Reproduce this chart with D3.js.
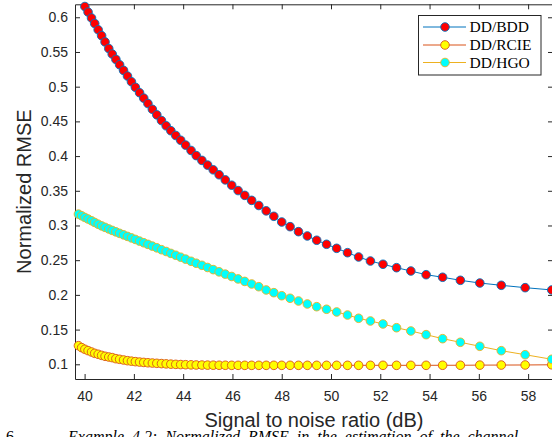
<!DOCTYPE html>
<html>
<head>
<meta charset="utf-8">
<script src="https://cdn.jsdelivr.net/npm/d3@7"></script>
<style>
    html, body { margin: 0; padding: 0; background: #fff; }
    .container { width: 552px; height: 437px; overflow: hidden; }
</style>
</head>
<body>
<div class="container"></div>
<script>
// SNR points (dB) shared by the three estimators
const snr = [
    39.75, 39.88, 40.01, 40.14, 40.28, 40.41, 40.55, 40.69, 40.83, 40.98,
    41.12, 41.27, 41.42, 41.58, 41.74, 41.90, 42.06, 42.23, 42.40, 42.57,
    42.75, 42.93, 43.12, 43.31, 43.50, 43.70, 43.90, 44.10, 44.32, 44.53,
    44.76, 44.99, 45.22, 45.46, 45.71, 45.97, 46.23, 46.50, 46.78, 47.07,
    47.37, 47.68, 48.00, 48.34, 48.68, 49.04, 49.42, 49.82, 50.23, 50.67,
    51.12, 51.60, 52.11, 52.66, 53.24, 53.86, 54.53, 55.25, 56.04, 56.91,
    57.88, 58.96,
];

const bdd = [
    0.632, 0.6235, 0.6155, 0.6075, 0.599, 0.591, 0.582, 0.5735, 0.5645, 0.555,
    0.547, 0.5393, 0.5316, 0.5235, 0.5153, 0.5071, 0.4991, 0.4913, 0.4835, 0.4757,
    0.4674, 0.4594, 0.4512, 0.4436, 0.4366, 0.4297, 0.4228, 0.4158, 0.4081, 0.4007,
    0.3938, 0.387, 0.3802, 0.3731, 0.3657, 0.358, 0.3503, 0.3434, 0.3362, 0.3288,
    0.3211, 0.3132, 0.305, 0.2983, 0.2911, 0.2849, 0.2787, 0.2729, 0.2671, 0.2608,
    0.2546, 0.2488, 0.2441, 0.2392, 0.2344, 0.2291, 0.2254, 0.221, 0.2171, 0.2138,
    0.2104, 0.2071,
];

const rcie = [
    0.1268, 0.124, 0.1216, 0.1197, 0.1177, 0.1158, 0.1144, 0.1129, 0.1115, 0.1105,
    0.1096, 0.1081, 0.1072, 0.1062, 0.1052, 0.1045, 0.1038, 0.1032, 0.1027, 0.1022,
    0.1018, 0.1014, 0.101, 0.1006, 0.1002, 0.0999, 0.0996, 0.0994, 0.0992, 0.099,
    0.0989, 0.0988, 0.0987, 0.0986, 0.0986, 0.0985, 0.0985, 0.0985, 0.0985, 0.0985,
    0.0985, 0.0985, 0.0985, 0.0985, 0.0985, 0.0985, 0.0985, 0.0985, 0.0985, 0.0985,
    0.0985, 0.0985, 0.0985, 0.0985, 0.0985, 0.0985, 0.0986, 0.0986, 0.0988, 0.0989,
    0.099, 0.0993,
];

const hgo = [
    0.3164, 0.314, 0.3116, 0.3093, 0.3068, 0.3044, 0.3018, 0.2994, 0.2973, 0.295,
    0.2929, 0.2908, 0.2887, 0.2865, 0.2843, 0.2821, 0.2799, 0.2775, 0.2751, 0.2728,
    0.2703, 0.2678, 0.2651, 0.2625, 0.2598, 0.2571, 0.2543, 0.2515, 0.2484, 0.2456,
    0.2426, 0.2395, 0.2364, 0.2332, 0.2299, 0.2265, 0.223, 0.2194, 0.2157, 0.2118,
    0.2071, 0.2032, 0.1988, 0.1951, 0.1912, 0.1869, 0.183, 0.1793, 0.1754, 0.171,
    0.1663, 0.1624, 0.1581, 0.1527, 0.148, 0.1427, 0.1369, 0.1317, 0.1259, 0.1196,
    0.1138, 0.1072,
];

const seriesNames = ["DD/BDD", "DD/RCIE", "DD/HGO"];
const xTicks = [40, 42, 44, 46, 48, 50, 52, 54, 56, 58];
const yTicks = [0.1, 0.15, 0.2, 0.25, 0.3, 0.35, 0.4, 0.45, 0.5, 0.55, 0.6];

const series = [
    { name: seriesNames[0], values: bdd, line: "#0072BD", fill: "#FF0000" },
    { name: seriesNames[1], values: rcie, line: "#D95319", fill: "#FFFF00" },
    { name: seriesNames[2], values: hgo, line: "#EDB120", fill: "#00FFFF" },
];

const width = 552;
const height = 437;
const plot = { left: 75, right: 553, top: 4.3, bottom: 379 };
const axisColor = "#262626";
const sans = "'Liberation Sans', Arial, Helvetica, sans-serif";
const serif = "'Liberation Serif', 'Times New Roman', serif";

const svg = d3
    .select(".container")
    .append("svg")
    .attr("width", width)
    .attr("height", height)
    .attr("viewBox", `0 0 ${width} ${height}`);

svg.append("rect").attr("width", width).attr("height", height).attr("fill", "#fff");

const x = d3.scaleLinear().domain([39.61, 59.01]).range([plot.left, plot.right]);
const y = d3.scaleLinear().domain([0.0788, 0.6187]).range([plot.bottom, plot.top]);

svg.append("defs")
    .append("clipPath")
    .attr("id", "plotClip")
    .append("rect")
    .attr("x", plot.left)
    .attr("y", plot.top)
    .attr("width", plot.right - plot.left)
    .attr("height", plot.bottom - plot.top);

// axes (box with inward ticks)
const styleAxis = (g) => {
    g.select(".domain").attr("stroke", axisColor).attr("stroke-width", 1);
    g.selectAll(".tick line").attr("stroke", axisColor).attr("stroke-width", 1);
    g.selectAll(".tick text").attr("fill", axisColor).attr("font-family", sans).attr("font-size", "14px");
};

svg.append("g")
    .attr("transform", `translate(0, ${plot.bottom})`)
    .call(d3.axisBottom(x).tickValues(xTicks).tickSizeInner(-5).tickSizeOuter(0).tickPadding(12))
    .call(styleAxis);

svg.append("g")
    .attr("transform", `translate(0, ${plot.top})`)
    .call(d3.axisTop(x).tickValues(xTicks).tickSizeInner(-5).tickSizeOuter(0).tickFormat(""))
    .call(styleAxis);

svg.append("g")
    .attr("transform", `translate(${plot.left}, 0)`)
    .call(d3.axisLeft(y).tickValues(yTicks).tickSizeInner(-5).tickSizeOuter(0).tickPadding(7).tickFormat(d3.format("~g")))
    .call(styleAxis);

svg.append("g")
    .attr("transform", `translate(${plot.right}, 0)`)
    .call(d3.axisRight(y).tickValues(yTicks).tickSizeInner(-5).tickSizeOuter(0).tickFormat(""))
    .call(styleAxis);

// series: line then markers, drawn in order
const line = d3
    .line()
    .x((d) => x(d[0]))
    .y((d) => y(d[1]));

series.forEach((s) => {
    const pts = snr.map((v, i) => [v, s.values[i]]);

    svg.append("path")
        .datum(pts)
        .attr("clip-path", "url(#plotClip)")
        .attr("fill", "none")
        .attr("stroke", s.line)
        .attr("stroke-width", 1)
        .attr("d", line);

    svg.append("g")
        .selectAll("circle")
        .data(pts.filter((d) => d[1] <= y.domain()[1] && d[1] >= y.domain()[0]))
        .enter()
        .append("circle")
        .attr("cx", (d) => x(d[0]))
        .attr("cy", (d) => y(d[1]))
        .attr("r", 4.3)
        .attr("fill", s.fill)
        .attr("stroke", s.line)
        .attr("stroke-width", 0.9);
});

// axis labels
svg.append("text")
    .attr("x", (plot.left + plot.right) / 2)
    .attr("y", 426.5)
    .attr("text-anchor", "middle")
    .attr("font-family", sans)
    .attr("font-size", "20px")
    .attr("fill", axisColor)
    .text("Signal to noise ratio (dB)");

svg.append("text")
    .attr("transform", `translate(31, ${(plot.top + plot.bottom) / 2}) rotate(-90)`)
    .attr("text-anchor", "middle")
    .attr("font-family", sans)
    .attr("font-size", "20px")
    .attr("fill", axisColor)
    .text("Normalized RMSE");

// legend
const legend = svg.append("g");
legend.append("rect")
    .attr("x", 418.5)
    .attr("y", 15.5)
    .attr("width", 122.5)
    .attr("height", 59.5)
    .attr("fill", "#fff")
    .attr("stroke", axisColor)
    .attr("stroke-width", 1);

const rowY = [27, 45, 62.5];
series.forEach((s, i) => {
    const row = legend.append("g").attr("transform", `translate(0, ${rowY[i]})`);
    row.append("line").attr("x1", 423).attr("x2", 466).attr("stroke", s.line).attr("stroke-width", 1);
    row.append("circle")
        .attr("cx", 445)
        .attr("r", 4.3)
        .attr("fill", s.fill)
        .attr("stroke", s.line)
        .attr("stroke-width", 0.9);
    row.append("text")
        .attr("x", 469.5)
        .attr("dy", "0.35em")
        .attr("font-family", serif)
        .attr("font-size", "15.5px")
        .attr("fill", "#000")
        .text(s.name);
});

// caption of the source figure, cropped by the bottom edge as in the reference
svg.append("text")
    .attr("x", 6)
    .attr("y", 442)
    .attr("font-family", serif)
    .attr("font-size", "16px")
    .attr("fill", "#000")
    .text("6");

svg.append("text")
    .attr("x", 68)
    .attr("y", 442)
    .attr("font-family", serif)
    .attr("font-style", "italic")
    .attr("font-size", "16px")
    .attr("word-spacing", "4px")
    .attr("fill", "#000")
    .text("Example 4.2: Normalized RMSE in the estimation of the channel");
</script>
</body>
</html>
